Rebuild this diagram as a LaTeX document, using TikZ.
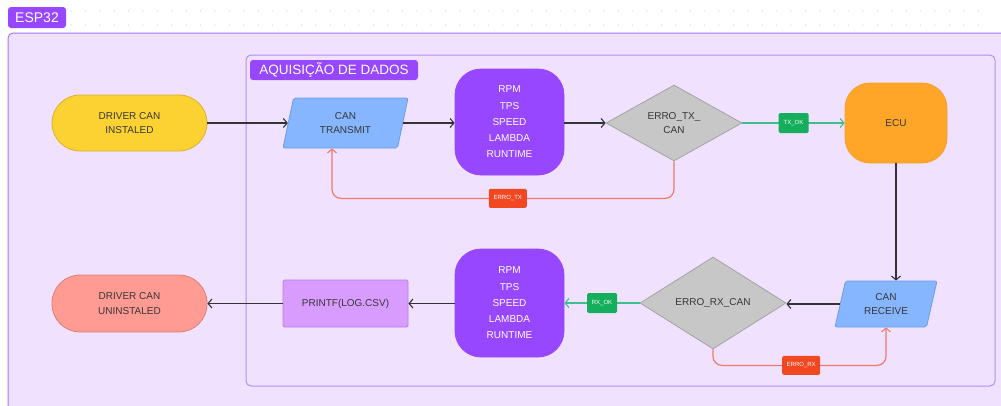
\documentclass[tikz,border=0pt]{standalone}
\usepackage{fontspec}
\setmainfont{Liberation Sans}
\usetikzlibrary{shapes.geometric,arrows.meta}
\definecolor{framefill}{HTML}{F0E2FF}
\definecolor{frameline}{HTML}{A773FA}
\definecolor{innerline}{HTML}{B58CF7}
\definecolor{purp}{HTML}{9747FF}
\definecolor{yel}{HTML}{FCD232}
\definecolor{yelb}{HTML}{D9B12E}
\definecolor{blu}{HTML}{86B6FF}
\definecolor{blub}{HTML}{6C9BE6}
\definecolor{gry}{HTML}{C7C7C7}
\definecolor{gryb}{HTML}{A3A3A3}
\definecolor{org}{HTML}{FFA629}
\definecolor{orgb}{HTML}{F5A030}
\definecolor{sal}{HTML}{FF9B93}
\definecolor{salb}{HTML}{D98078}
\definecolor{lil}{HTML}{D89CFF}
\definecolor{lilb}{HTML}{B77BE8}
\definecolor{txt}{HTML}{363636}
\definecolor{okg}{HTML}{14AE5C}
\definecolor{okline}{HTML}{3DBE8B}
\definecolor{errr}{HTML}{F24822}
\definecolor{errline}{HTML}{F07A66}
\definecolor{dotc}{HTML}{C8C8C8}
\definecolor{conn}{HTML}{333333}
\begin{document}
\begin{tikzpicture}[x=1pt,y=-1pt,
  base/.style={align=center,text=txt,font=\fontsize{10}{14.5}\selectfont,inner sep=0pt,line width=0.8pt},
  term/.style={base,rounded corners=28pt,minimum width=155pt,minimum height=56pt},
  iobox/.style={base,trapezium,trapezium left angle=64,trapezium right angle=116,trapezium stretches body,
     minimum width=101pt,minimum height=50pt,fill=blu,draw=blub,rounded corners=2pt},
  databox/.style={base,rounded corners=26pt,minimum width=109pt,fill=purp,draw=purp,text=white,
     font=\fontsize{10}{16.3}\selectfont},
  decis/.style={base,diamond,fill=gry,draw=gryb},
  okl/.style={fill=okg,text=white,rounded corners=1.5pt,minimum width=30pt,minimum height=20pt,inner sep=0pt,font=\fontsize{6}{6}\selectfont},
  errl/.style={fill=errr,text=white,rounded corners=1.5pt,minimum width=38pt,minimum height=19pt,inner sep=0pt,font=\fontsize{6}{6}\selectfont},
  arr/.style={line width=1.2pt,-{Straight Barb[length=3.8pt,width=9pt,line width=1.1pt]}},
  flow/.style={arr,draw=conn},
  okflow/.style={arr,draw=okline},
  errflow/.style={arr,draw=errline,rounded corners=9pt},
  tag/.style={fill=purp,text=white,rounded corners=3pt,inner sep=0pt}
]
\useasboundingbox (0,0) rectangle (1001,405);
\fill[white] (0,0) rectangle (1001,405);
\foreach \i in {0,...,63} {
  \fill[dotc] (71+14.4*\i,11) circle (0.6);
  \fill[dotc] (71+14.4*\i,25) circle (0.6);
}
% frames
\draw[fill=framefill,draw=frameline,line width=1pt,rounded corners=5pt] (8,33) rectangle (1015,425);
\draw[draw=innerline,line width=1pt,rounded corners=5pt] (246,55) rectangle (995,386);
\node[tag,minimum width=58pt,minimum height=21pt,font=\fontsize{14}{14}\selectfont] (esp) at (37,17.5) {ESP32};
\node[tag,minimum width=168pt,minimum height=20pt,font=\fontsize{13.5}{13.5}\selectfont] (aq) at (334,70) {AQUISIÇÃO DE DADOS};
% top row
\node[term,fill=yel,draw=yelb] (d1) at (129.5,123) {DRIVER CAN\\INSTALED};
\node[iobox,minimum width=125pt] (tx) at (345.5,123) {CAN\\TRANSMIT};
\node[databox,minimum height=106pt] (r1) at (509.5,122) {RPM\\TPS\\SPEED\\LAMBDA\\RUNTIME};
\node[decis,minimum width=136pt,minimum height=76pt] (e1) at (674,123) {ERRO\_TX\_\\CAN};
\node[base,rounded corners=25pt,minimum width=102pt,minimum height=80pt,fill=org,draw=orgb] (ecu) at (896,123) {ECU};
% bottom row
\node[iobox,minimum width=102pt,minimum height=46pt] (rx) at (886,304) {CAN\\RECEIVE};
\node[decis,minimum width=146pt,minimum height=92pt] (e2) at (713,303) {ERRO\_RX\_CAN};
\node[databox,minimum height=108pt] (r2) at (509.5,303) {RPM\\TPS\\SPEED\\LAMBDA\\RUNTIME};
\node[base,minimum width=125pt,minimum height=47pt,fill=lil,draw=lilb,rounded corners=1.5pt] (pf) at (345.5,303.5) {PRINTF(LOG.CSV)};
\node[term,fill=sal,draw=salb,minimum height=57pt] (d2) at (129.5,303.5) {DRIVER CAN\\UNINSTALED};
% connectors
\draw[flow] (d1.east) -- (d1.east -| tx.west);
\draw[flow] (tx.east) -- (tx.east -| r1.west);
\draw[flow] (r1.east |- e1.west) -- (e1.west);
\draw[okflow] (e1.east) -- node[okl] (txok) {TX\_OK} (ecu.west);
\draw[errflow] (e1.south) -- ++(0,37) -| node[errl,pos=0.243] (etx) {ERRO\_TX} ([xshift=-13.5pt]tx.south);
\draw[flow] (ecu.south) -- (ecu.south |- rx.north);
\draw[flow] (rx.west) -- (rx.west -| e2.east);
\draw[okflow] (e2.west) -- node[okl] (rxok) {RX\_OK} (e2.west -| r2.east);
\draw[errflow] (e2.south) -- ++(0,16) -| node[errl,pos=0.255] (erx) {ERRO\_RX} (rx.south);
\draw[flow] (r2.west |- pf.east) -- (pf.east);
\draw[flow] (pf.west) -- (d2.east);
\end{tikzpicture}
\end{document}
